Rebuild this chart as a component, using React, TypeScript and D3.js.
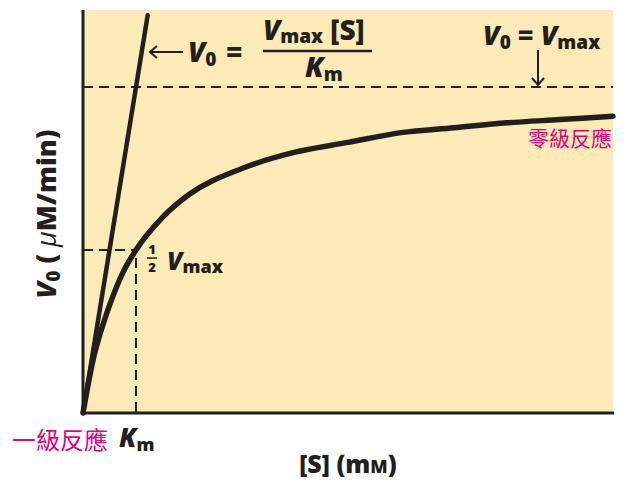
import React from "react";
import * as d3 from "d3";

// Michaelis–Menten curve (S in mM, V0 in units of Vmax)
const S_VALUES = [0, 0.1, 0.2, 0.3, 0.5, 0.75, 1, 1.5, 2, 3, 4, 5, 6, 7, 8, 9, 10];
const V_VALUES = [0, 0.09, 0.17, 0.23, 0.33, 0.43, 0.5, 0.6, 0.67, 0.75, 0.8, 0.83, 0.86, 0.875, 0.89, 0.9, 0.91];
// first-order (initial slope) line
const LINE_S = [0, 1.22];
const LINE_V = [0, 1.22];
const VMAX = [1];
const KM = [1];
const HALF_VMAX = [0.5];
const X_DOMAIN = [0, 10];
const Y_DOMAIN = [0, 1];
const Y_TOP = [1.227];

const INK = "#231f20";
const BG = "#fcebb6";
const MAGENTA = "#e5007e";
const FONT = "'Open Sans', 'Liberation Sans', sans-serif";
const CJK = "'Noto Sans CJK TC', 'Noto Sans CJK SC', sans-serif";

export default function App() {
  const W = 627, H = 483;
  const x = d3.scaleLinear().domain(X_DOMAIN).range([83, 613]);
  const y = d3.scaleLinear().domain(Y_DOMAIN).range([413, 87]);

  const curve = d3
    .line<number>()
    .x((d) => x(S_VALUES[d]))
    .y((d) => y(V_VALUES[d]))
    .curve(d3.curveMonotoneX)(S_VALUES.map((_, i) => i)) as string;
  const line = d3
    .line<number>()
    .x((d) => x(LINE_S[d]))
    .y((d) => y(LINE_V[d]))(LINE_S.map((_, i) => i)) as string;

  const x0 = x(X_DOMAIN[0]);
  const x1 = x(X_DOMAIN[1]);
  const y0 = y(0);
  const yTop = y(Y_TOP[0]);
  const yV = y(VMAX[0]);
  const yHalf = y(HALF_VMAX[0]);
  const xKm = x(KM[0]);

  const b = { fontFamily: FONT, fontWeight: 800, fill: INK } as const;

  return (
    <svg width={W} height={H} style={{ position: "absolute", left: 0, top: 0 }}>
      <rect x={0} y={0} width={W} height={H} fill="#ffffff" />
      <rect x={x0} y={yTop - 3} width={x1 - x0} height={y0 - yTop + 3} fill={BG} />

      {/* dashed guides */}
      <line x1={x0} x2={x1} y1={yV} y2={yV} stroke={INK} strokeWidth={2} strokeDasharray="10,6" />
      <line x1={x0} x2={xKm} y1={yHalf} y2={yHalf} stroke={INK} strokeWidth={2} strokeDasharray="10,6" />
      <line x1={xKm} x2={xKm} y1={yHalf + 8} y2={y0} stroke={INK} strokeWidth={2} strokeDasharray="10,6" />

      {/* axes */}
      <line x1={x0} x2={x0} y1={yTop - 3} y2={y0 + 1.5} stroke={INK} strokeWidth={3} />
      <line x1={x0 - 1.5} x2={x1 + 1} y1={y0} y2={y0} stroke={INK} strokeWidth={3} />

      {/* curves */}
      <path d={curve} fill="none" stroke={INK} strokeWidth={5.5} strokeLinecap="round" />
      <path d={line} fill="none" stroke={INK} strokeWidth={4.5} strokeLinecap="round" />

      {/* left formula arrow */}
      <line x1={150} x2={183} y1={52} y2={52} stroke={INK} strokeWidth={2} />
      <path d="M157,46 L150,52 L157,58" fill="none" stroke={INK} strokeWidth={2} />
      {/* V0 = Vmax[S]/Km */}
      <text x={188} y={62} fontSize={28} {...b}>
        <tspan fontStyle="italic">V</tspan>
        <tspan fontSize={19} dy={4}>0</tspan>
      </text>
      <text x={226} y={62} fontSize={28} {...b}>=</text>
      <text x={263} y={40} fontSize={28} {...b}>
        <tspan fontStyle="italic">V</tspan>
        <tspan fontSize={19} dy={3}>max</tspan>
        <tspan dy={-3}> [S]</tspan>
      </text>
      <line x1={263} x2={372} y1={51} y2={51} stroke={INK} strokeWidth={2.5} />
      <text x={305} y={77} fontSize={28} {...b}>
        <tspan fontStyle="italic">K</tspan>
        <tspan fontSize={19} dy={4}>m</tspan>
      </text>

      {/* V0 = Vmax top-right */}
      <text x={483} y={45} fontSize={27} {...b}>
        <tspan fontStyle="italic">V</tspan>
        <tspan fontSize={19} dy={4}>0</tspan>
        <tspan dy={-4}> = </tspan>
        <tspan fontStyle="italic">V</tspan>
        <tspan fontSize={19} dy={4}>max</tspan>
      </text>
      <line x1={538} x2={538} y1={50} y2={yV - 2} stroke={INK} strokeWidth={2} />
      <path d={`M532,${yV - 9} L538,${yV - 2} L544,${yV - 9}`} fill="none" stroke={INK} strokeWidth={2} />

      {/* 1/2 Vmax */}
      <text x={152} y={254} fontSize={13} textAnchor="middle" {...b}>1</text>
      <line x1={147} x2={157} y1={258} y2={258} stroke={INK} strokeWidth={1.5} />
      <text x={152} y={272} fontSize={13} textAnchor="middle" {...b}>2</text>
      <text x={167} y={270} fontSize={25} {...b}>
        <tspan fontStyle="italic">V</tspan>
        <tspan fontSize={18} dy={3}>max</tspan>
      </text>

      {/* zero-order / first-order labels */}
      <text x={528} y={146} fontSize={21} fontFamily={CJK} fill={MAGENTA}>零級反應</text>
      <text x={12} y={449} fontSize={24} fontFamily={CJK} fill={MAGENTA}>一級反應</text>
      <text x={119} y={447} fontSize={26} {...b}>
        <tspan fontStyle="italic">K</tspan>
        <tspan fontSize={18} dy={4}>m</tspan>
      </text>

      {/* axis titles */}
      <text x={348} y={473} fontSize={25} textAnchor="middle" {...b}>
        [S] (m<tspan fontSize={18}>M</tspan>)
      </text>
      <text transform="translate(56,214) rotate(-90)" fontSize={27} textAnchor="middle" {...b}>
        <tspan fontStyle="italic">V</tspan>
        <tspan fontSize={19} dy={4}>0</tspan>
        <tspan dy={-4}> ( </tspan>
        <tspan fontStyle="italic" fontWeight={400}>μ</tspan>
        <tspan>M/min)</tspan>
      </text>
    </svg>
  );
}
